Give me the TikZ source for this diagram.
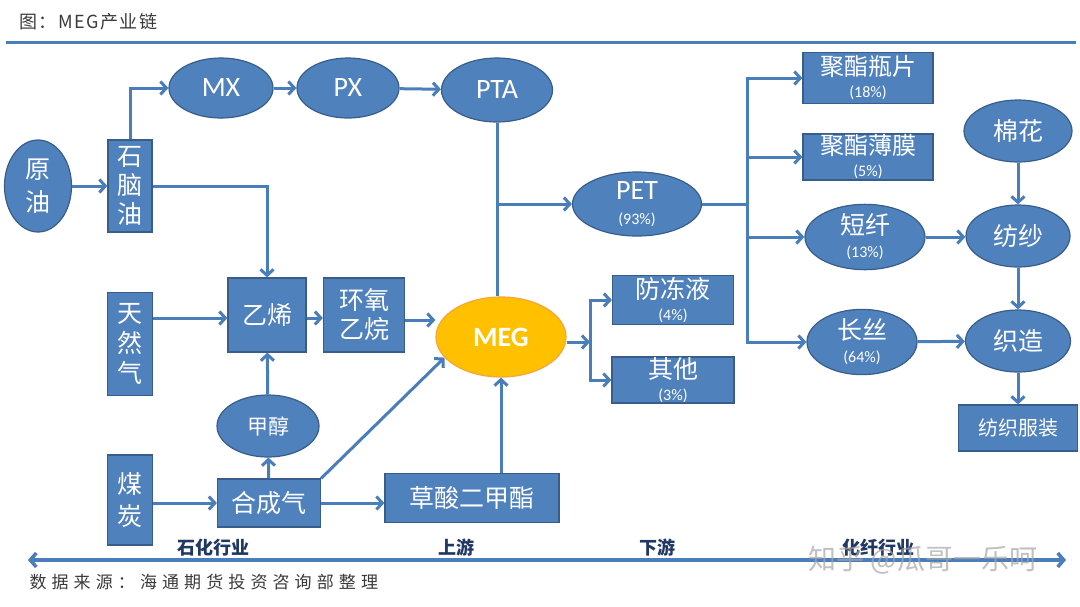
\documentclass[tikz,border=0pt]{standalone}
\usepackage{fontspec}
\setmainfont{Carlito}
\newfontfamily\cjk{Noto Sans CJK SC}
\newfontfamily\cjkwide[LetterSpace=30]{Noto Sans CJK SC}
\newfontfamily\cjktitle[LetterSpace=8]{Noto Sans CJK SC}
\usetikzlibrary{shapes.geometric,arrows.meta}
\definecolor{nodeblue}{HTML}{4F81BD}
\definecolor{edgeblue}{HTML}{385D8A}
\definecolor{lineblue}{HTML}{4A7EBB}
\definecolor{megfill}{HTML}{FFC000}
\definecolor{megedge}{HTML}{F5A53A}
\definecolor{stagetext}{HTML}{1F3864}
\definecolor{notetext}{HTML}{3A3A3A}
\newcommand\pctfont{\normalfont\fontsize{16}{18}\selectfont}
\begin{document}
\begin{tikzpicture}[x=1pt, y=-1pt,
  box/.style={draw=edgeblue, line width=1.2pt, fill=nodeblue, text=white, inner sep=0pt, align=center, font=\cjk\fontsize{25}{29}\selectfont},
  oval/.style={box, ellipse},
  latin/.style={font=\fontsize{28}{30}\selectfont},
  link/.style={lineblue, line width=3pt, -{Straight Barb[length=6pt, width=13pt]}},
  plain/.style={lineblue, line width=3pt},
  stage/.style={font=\cjk\bfseries\fontsize{18}{20}\selectfont, text=stagetext}
]
  \useasboundingbox[fill=white] (0,0) rectangle (1080,606);

  % Title and rule
  \node[anchor=west, text=notetext, font=\cjktitle\fontsize{18}{20}\selectfont] (title) at (16,22) {图：MEG产业链};
  \draw[lineblue, line width=3pt] (6,42) -- (1076,42);

  % Feedstocks
  \node[oval, minimum width=67pt, minimum height=92pt, font=\cjk\fontsize{25}{33}\selectfont] (crude) at (38,186) {原\\油};
  \node[box, minimum width=44pt, minimum height=92pt] (naphtha) at (130,186) {石\\脑\\油};
  \node[box, minimum width=45pt, minimum height=103pt, font=\cjk\fontsize{25}{30}\selectfont] (gas) at (130,344) {天\\然\\气};
  \node[box, minimum width=45pt, minimum height=90pt, font=\cjk\fontsize{25}{32}\selectfont] (coal) at (130,500) {煤\\炭};

  % Aromatics chain
  \node[oval, latin, minimum width=104pt, minimum height=60pt] (mx) at (221,88) {MX};
  \node[oval, latin, minimum width=102pt, minimum height=60pt] (px) at (348,88) {PX};
  \node[oval, latin, minimum width=111pt, minimum height=64pt] (pta) at (497,90) {PTA};

  % Intermediates
  \node[box, minimum width=78pt, minimum height=74pt] (ethylene) at (267,315) {乙烯};
  \node[box, minimum width=81pt, minimum height=74pt] (eo) at (364,315) {环氧\\乙烷};
  \node[oval, minimum width=102pt, minimum height=62pt, font=\cjk\fontsize{21}{23}\selectfont] (methanol) at (268,426) {甲醇};
  \node[box, minimum width=103pt, minimum height=48pt] (syngas) at (269,503) {合成气};
  \node[box, minimum width=174pt, minimum height=49pt] (dmo) at (472,498) {草酸二甲酯};

  % MEG
  \node[ellipse, draw=megedge, line width=1.2pt, fill=megfill, text=white, inner sep=0pt, minimum width=130pt, minimum height=80pt, font=\bfseries\fontsize{28}{30}\selectfont] (meg) at (501,337) {MEG};

  % Downstream
  \node[oval, minimum width=129pt, minimum height=64pt, font=\fontsize{28}{25}\selectfont] (pet) at (637,204) {PET\\{\pctfont (93\%)}};
  \node[box, minimum width=121pt, minimum height=49pt, font=\cjk\fontsize{25}{22}\selectfont] (antifreeze) at (673,300) {防冻液\\{\pctfont (4\%)}};
  \node[box, minimum width=122pt, minimum height=46pt, font=\cjk\fontsize{25}{22}\selectfont] (other) at (673,380) {其他\\{\pctfont (3\%)}};
  \node[box, minimum width=130pt, minimum height=51pt, font=\cjk\fontsize{24}{22}\selectfont] (bottle) at (868,78) {聚酯瓶片\\{\pctfont (18\%)}};
  \node[box, minimum width=130pt, minimum height=46pt, font=\cjk\fontsize{24}{22}\selectfont] (film) at (868,157) {聚酯薄膜\\{\pctfont (5\%)}};
  \node[oval, minimum width=120pt, minimum height=65pt, font=\cjk\fontsize{25}{23}\selectfont] (staple) at (865,237) {短纤\\{\pctfont (13\%)}};
  \node[oval, minimum width=110pt, minimum height=65pt, font=\cjk\fontsize{25}{23}\selectfont] (filament) at (862,342) {长丝\\{\pctfont (64\%)}};

  % Textile chain
  \node[oval, minimum width=108pt, minimum height=62pt] (cotton) at (1018,131) {棉花};
  \node[oval, minimum width=104pt, minimum height=62pt] (yarn) at (1018,236) {纺纱};
  \node[oval, minimum width=105pt, minimum height=62pt] (weave) at (1018,341) {织造};
  \node[box, minimum width=119pt, minimum height=46pt, font=\cjk\fontsize{20}{22}\selectfont] (apparel) at (1018,428) {纺织服装};

  % Connectors
  \draw[link] (crude) -- (naphtha);
  \draw[link] (naphtha.north) |- (mx.west);
  \draw[link] (mx) -- (px);
  \draw[link] (px) -- (pta);
  \draw[link] (naphtha.east) -| (ethylene.north);
  \draw[link] (gas.east |- 0,318) -- (ethylene.west |- 0,318);
  \draw[link] (ethylene.east |- 0,318) -- (eo.west |- 0,318);
  \draw[link] (eo.east |- 0,320) -- (meg.west |- 0,320);
  \draw[link] (methanol) -- (ethylene);
  \draw[link] (syngas) -- (methanol);
  \draw[link] (coal.east |- syngas) -- (syngas.west);
  \draw[link] (syngas.east) -- (syngas.east -| dmo.west);
  \draw[link] (syngas.north east) -- (meg.200);
  \draw[link] (meg |- dmo.north) -- (meg.south);
  \draw[plain] (pta.south) -- (pta.south |- meg.north);
  \draw[link] (pta.south |- pet) -- (pet.west);

  \coordinate (megbar) at (590,342);
  \draw[link] (meg.east |- megbar) -- (megbar);
  \draw[link] (megbar) |- (antifreeze.west);
  \draw[link] (megbar) |- (other.west);

  \coordinate (petbar) at (747,204);
  \draw[plain] (pet.east) -- (petbar);
  \draw[link] (petbar) |- (bottle.west);
  \draw[link] (petbar) |- (film.west);
  \draw[link] (petbar) |- (staple.west);
  \draw[link] (petbar) |- (filament.west);

  \draw[link] (staple.east) -- (staple.east -| yarn.west);
  \draw[link] (cotton) -- (yarn);
  \draw[link] (yarn) -- (weave);
  \draw[link] (filament) -- (weave);
  \draw[link] (weave) -- (apparel);

  % Stage axis
  \node[stage] (petro) at (213,548) {石化行业};
  \node[stage] (up) at (456,548) {上游};
  \node[stage] (down) at (657,548) {下游};
  \node[stage] (fiber) at (878,548) {化纤行业};
  \coordinate (axisl) at (28,560);
  \coordinate (axisr) at (1066,560);
  \draw[lineblue, line width=3.5pt, {Straight Barb[length=6pt, width=14pt]}-{Straight Barb[length=6pt, width=14pt]}] (axisl) -- (axisr);

  % Source and watermark
  \node[anchor=west, text=notetext, font=\cjkwide\fontsize{17}{19}\selectfont] (source) at (26,582) {数据来源：海通期货投资咨询部整理};
  \node[text=gray!70, opacity=0.7, font=\cjk\fontsize{28}{30}\selectfont] (mark) at (923,560) {知乎 @瓜哥一乐呵};
\end{tikzpicture}
\end{document}
